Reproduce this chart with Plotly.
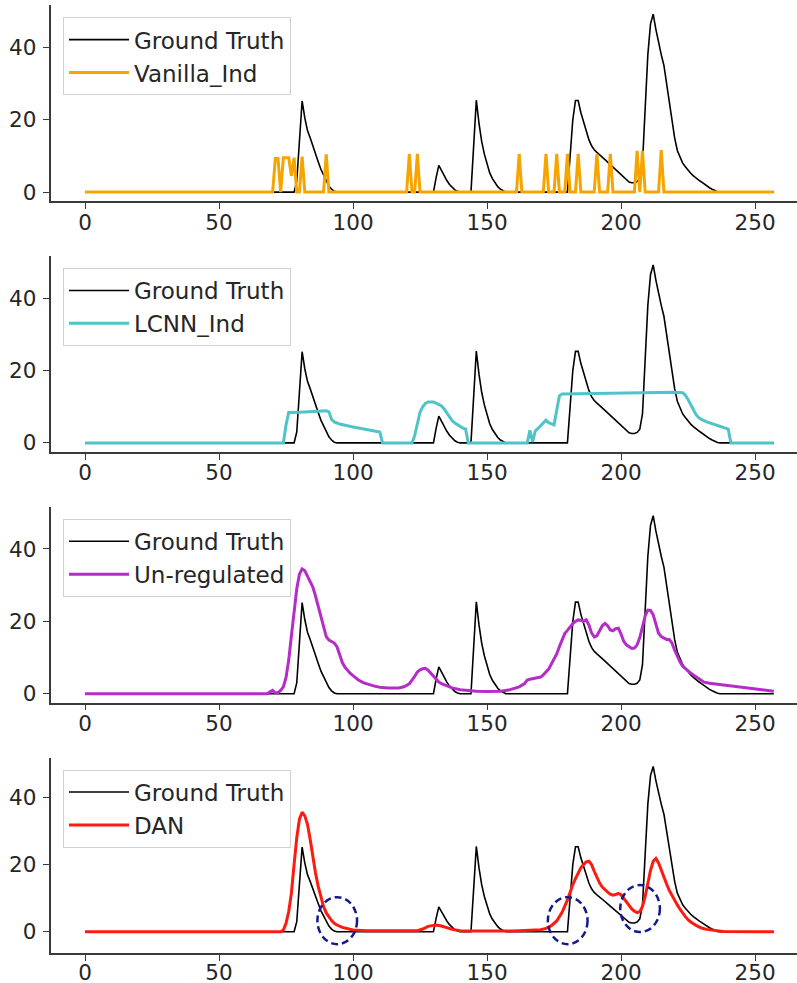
import plotly.graph_objects as go

# ---------------- data ----------------
gt_x = [0, 78, 79, 80, 81, 82, 83, 84, 85, 86, 87, 88, 89, 90, 91, 92, 93, 94,
        130, 131, 132, 133, 134, 135, 136, 137, 138, 139, 140,
        144, 145, 146, 147, 148, 149, 150, 151, 152, 153, 154, 155, 156, 157,
        180, 181, 182, 183, 184, 185, 186, 187, 188, 189, 190, 191, 192, 193, 194,
        195, 196, 197, 198, 199, 200, 201, 202, 203, 204, 205, 206, 207, 208, 209,
        210, 211, 212, 213, 214, 215, 216, 217, 218, 219, 220, 221, 222, 223, 224,
        225, 226, 227, 228, 229, 230, 231, 232, 233, 234, 235, 236, 237, 257]
gt_y = [0, 0, 3, 15, 25.2, 20.5, 17, 15, 13, 10.8, 8.4, 6.3, 4.6, 3.0, 1.7, 0.8, 0.2, 0,
        0, 4, 7.4, 6, 4.5, 3.2, 2.1, 1.2, 0.6, 0.2, 0,
        0, 14, 25.4, 19, 14, 10.5, 7.5, 5.3, 3.7, 2.5, 1.5, 0.8, 0.3, 0,
        0, 10, 20, 25.3, 25.3, 22, 19.5, 17, 14.5, 12.8, 11.7, 11, 10.4, 9.7, 9,
        8.3, 7.6, 6.8, 6.1, 5.5, 4.8, 4, 3.3, 2.8, 2.6, 2.6, 2.9, 3.8, 8, 24,
        38, 46.5, 49.2, 45, 41, 38, 35, 30, 24.5, 19.5, 15, 11.5, 9.5, 8, 7,
        6, 5.2, 4.5, 3.8, 3.3, 2.8, 2.2, 1.7, 1.2, 0.8, 0.4, 0.1, 0, 0]

van_x = [0, 70, 71, 72, 73, 74, 75, 76, 77, 78, 79, 80, 81, 82, 89, 90, 91,
         120, 121, 122, 123, 124, 125, 161, 162, 163, 171, 172, 173, 175, 176, 177,
         179, 180, 181, 183, 184, 185, 190, 191, 192, 195, 196, 197,
         205, 206, 207, 208, 209, 214, 215, 216, 257]
van_y = [0, 0, 9.3, 9.3, 0, 9.5, 9.5, 9.5, 4.5, 9.5, 0, 0, 9.8, 0, 0, 10.4, 0,
         0, 10.6, 0, 0, 10.6, 0, 0, 10.6, 0, 0, 10.6, 0, 0, 10.6, 0,
         0, 10.6, 0, 0, 10.6, 0, 0, 10.6, 0, 0, 10.6, 0,
         0, 11.4, 0, 11.4, 0, 0, 11.6, 0, 0]

lcnn_x = [0, 74, 75, 76, 80, 85, 90, 91, 92, 93, 95, 100, 105, 110, 111,
          122, 123, 124, 125, 126, 127, 128, 129, 130, 131, 132, 133, 134, 135, 136,
          137, 138, 139, 140, 141, 142, 143,
          165, 166, 167, 168, 169, 170, 171, 172, 173, 174, 175, 176, 177, 178, 185,
          195, 200, 205, 210, 215, 220, 223, 224, 225, 226, 227, 228, 229, 230, 232,
          235, 238, 239, 240, 241, 257]
lcnn_y = [0, 0, 5, 8.4, 8.5, 8.7, 8.9, 8.6, 6.5, 5.8, 5.2, 4.4, 3.7, 3.0, 0,
          0, 2, 5.4, 8.5, 10, 10.9, 11.3, 11.4, 11.3, 11, 10.7, 10.2, 9.4, 8.2, 7,
          6.1, 5.5, 5, 4.5, 4.1, 3.8, 0,
          0, 3.5, 0.3, 3.3, 4, 4.8, 5.6, 6.3, 5.6, 5.4, 5, 9, 13, 13.5, 13.6,
          13.8, 13.7, 13.8, 13.9, 13.9, 14, 13.9, 13.2, 12, 10.5, 9, 7.8, 7, 6.5, 5.8,
          5, 4.3, 4, 3.8, 0, 0]

unreg_x = [0, 68, 69, 70, 71, 72, 73, 74, 75, 76, 77, 78, 79, 80, 81, 82, 83, 84,
           85, 86, 87, 88, 89, 90, 91, 92, 93, 94, 95, 96, 97, 98, 99, 100, 102, 104,
           106, 108, 110, 113, 117, 119, 121, 122, 123, 124, 125, 126, 127, 128, 129,
           130, 131, 132, 133, 135, 137, 140, 143, 146, 150, 155, 158, 160, 162, 164,
           165, 166, 168, 170, 171, 172, 173, 174, 175, 176, 177, 178, 179, 180, 181,
           182, 183, 184, 185, 186, 187, 188, 189, 190, 191, 192, 193, 194, 195, 196,
           197, 198, 199, 200, 201, 202, 203, 204, 205, 206, 207, 208, 209, 210, 211,
           212, 213, 214, 215, 216, 217, 218, 219, 220, 221, 222, 223, 224, 225, 226,
           227, 229, 231, 233, 235, 237, 240, 244, 248, 251, 254, 257]
unreg_y = [0, 0, 0.5, 0.9, 0.2, 0.3, 0.9, 1.9, 4.5, 9.3, 16, 23, 29, 33, 34.5, 34, 32.5, 31,
           29.5, 27, 24, 21, 18, 15.8, 14.8, 14.4, 14, 13, 10.5, 8.6, 7.3, 6.3, 5.6, 5, 3.8, 3,
           2.5, 2.1, 1.8, 1.6, 1.6, 1.9, 2.7, 3.6, 4.8, 6, 6.6, 6.9, 7, 6.5, 5.6,
           4.7, 3.9, 3.2, 2.8, 2.1, 1.6, 1.1, 0.8, 0.7, 0.6, 0.7, 1, 1.4, 1.9, 2.8,
           3.8, 4, 4.2, 4.6, 5.2, 6, 6.8, 8.2, 9.6, 11, 13, 14.8, 16.6, 17.5, 18.5,
           19.4, 20, 20.4, 20.3, 20, 20.4, 19, 16.8, 15.7, 16, 17.3, 18.8, 19.4, 18.8, 17.6,
           17.4, 18, 18.1, 16.5, 14.5, 13.5, 13, 12.5, 12.6, 13.5, 15.5, 18.5, 21.5, 23.1, 23,
           21.8, 19, 16.7, 15.8, 15.3, 15, 15, 14, 12, 10.2, 8.8, 7.6, 6.9, 6.2, 5.7,
           5.2, 4.2, 3.2, 2.9, 2.7, 2.5, 2.2, 1.9, 1.6, 1.3, 1, 0.7]

dan_x = [0, 73, 74, 75, 76, 77, 78, 79, 80, 81, 82, 83, 84, 85, 86, 87, 88, 89, 90,
         91, 92, 93, 94, 96, 98, 100, 105, 124, 126, 128, 130, 131, 133, 135, 137, 140,
         142, 160, 168, 170, 172, 174, 176, 178, 180, 181, 182, 183, 184, 185, 186, 187,
         188, 189, 190, 191, 192, 193, 194, 195, 196, 197, 198, 199, 200, 201, 202, 203,
         204, 205, 206, 207, 208, 209, 210, 211, 212, 213, 214, 215, 216, 217, 218, 219,
         220, 221, 222, 223, 224, 225, 226, 228, 230, 232, 235, 238, 257]
dan_y = [0, 0, 0.5, 2.5, 6, 11.5, 20, 28, 33.5, 35.6, 34.5, 32, 27.5, 22.2, 17.5, 13.5, 10, 7.5, 5.6,
         4.3, 3.3, 2.5, 2, 1.3, 0.8, 0.5, 0.3, 0.3, 0.8, 1.6, 1.9, 2, 1.7, 1.1, 0.7, 0.3,
         0.2, 0.2, 0.4, 0.6, 1, 1.8, 3.2, 5.8, 9.5, 12, 14, 15.8, 17.5, 19, 20, 20.8,
         21, 20, 18, 16, 14.5, 13.3, 12.4, 11.8, 11.2, 10.9, 11.1, 11.4, 11, 9.9, 8.9, 7.8,
         6.8, 6.1, 5.7, 6, 7.5, 10.5, 14.5, 18.3, 21, 21.8, 20.5, 18.3, 16, 14.2, 12.3, 10.7,
         9.2, 8, 6.7, 5.5, 4.5, 3.6, 2.9, 1.9, 1.1, 0.7, 0.3, 0.1, 0]

model_names = ["Vanilla_Ind", "LCNN_Ind", "Un-regulated", "DAN"]
model_colors = ["#f5a400", "#4fc4c8", "#b52cc8", "#ff1a10"]
x_ticks = [0, 50, 100, 150, 200, 250]
y_ticks = [0, 20, 40]

# highlight circles on the DAN panel: (x centre, y centre, x half-width, y half-height)
circ_cx = [94.1, 180.1, 207.1]
circ_cy = [3.3, 3.3, 6.9]
circ_rx = [7.4, 7.4, 7.4]
circ_ry = [7.0, 7.0, 7.0]

# ---------------- figure ----------------
W, H = 797, 983
FONT = "DejaVu Sans"
TXT = "#262626"
AX = "#3a3a3a"

series = [(van_x, van_y), (lcnn_x, lcnn_y), (unreg_x, unreg_y), (dan_x, dan_y)]
# the last panel's y range also spans the dashed circles (like matplotlib autoscale)
y_ranges = [[-2.46, 51.66], [-2.46, 51.66], [-2.46, 51.66], [-6.45, 51.85]]

fig = go.Figure()
layout = {}
x_left_px = 50.6
x_range = [-12.85, -12.85 + (W - x_left_px) / 2.68]
panel_bot0, panel_h, step = 201.0, 195.8, 250.8

for i in range(4):
    k = i + 1
    sfx = "" if k == 1 else str(k)
    xa, ya = "x" + sfx, "y" + sfx
    leg = "legend" + sfx
    fig.add_trace(go.Scatter(x=gt_x, y=gt_y, mode="lines", name="Ground Truth",
                             line=dict(color="black", width=1.6),
                             xaxis=xa, yaxis=ya, legend=leg))
    mx, my = series[i]
    fig.add_trace(go.Scatter(x=mx, y=my, mode="lines", name=model_names[i],
                             line=dict(color=model_colors[i], width=3),
                             xaxis=xa, yaxis=ya, legend=leg))
    bot = panel_bot0 + step * i
    top = bot - panel_h
    layout["xaxis" + sfx] = dict(
        domain=[x_left_px / W, 1.0], range=x_range, anchor=ya,
        tickmode="array", tickvals=x_ticks, ticks="outside", ticklen=6, tickwidth=1.3,
        tickcolor=AX, showline=True, linecolor=AX, linewidth=1.7, showgrid=False,
        zeroline=False, tickfont=dict(family=FONT, size=21.5, color=TXT),
        ticklabelstandoff=(-7 if k == 4 else -5), automargin=False)
    layout["yaxis" + sfx] = dict(
        domain=[1 - bot / H, 1 - top / H], range=y_ranges[i], anchor=xa,
        tickmode="array", tickvals=y_ticks, ticks="outside", ticklen=6, tickwidth=1.3,
        tickcolor=AX, showline=True, linecolor=AX, linewidth=1.7, showgrid=False,
        zeroline=False, tickfont=dict(family=FONT, size=21.5, color=TXT),
        ticklabelstandoff=2, automargin=False)
    layout[leg] = dict(
        x=63 / W, y=1 - (top + 12) / H, xanchor="left", yanchor="top",
        bgcolor="rgba(255,255,255,0.85)", bordercolor="#d0d0d0", borderwidth=1,
        font=dict(family=FONT, size=23, color=TXT), itemwidth=60,
        traceorder="normal")

shapes = []
for cx, cy, rx, ry in zip(circ_cx, circ_cy, circ_rx, circ_ry):
    shapes.append(dict(type="circle", xref="x4", yref="y4",
                       x0=cx - rx, x1=cx + rx, y0=cy - ry, y1=cy + ry,
                       line=dict(color="#141a8c", width=2.5, dash="7px,4px")))

fig.update_layout(width=W, height=H, margin=dict(l=0, r=0, t=0, b=0),
                  paper_bgcolor="white", plot_bgcolor="white",
                  font=dict(family=FONT, color=TXT), shapes=shapes, showlegend=True,
                  **layout)

fig.write_html("out.html", config={"displayModeBar": False})

# remove the browser's default 8px page margin so the figure sits at (0, 0)
with open("out.html", "r", encoding="utf-8") as f:
    html = f.read()
html = html.replace("<head>", "<head><style>html,body{margin:0;padding:0;overflow:hidden;}</style>", 1)
with open("out.html", "w", encoding="utf-8") as f:
    f.write(html)
